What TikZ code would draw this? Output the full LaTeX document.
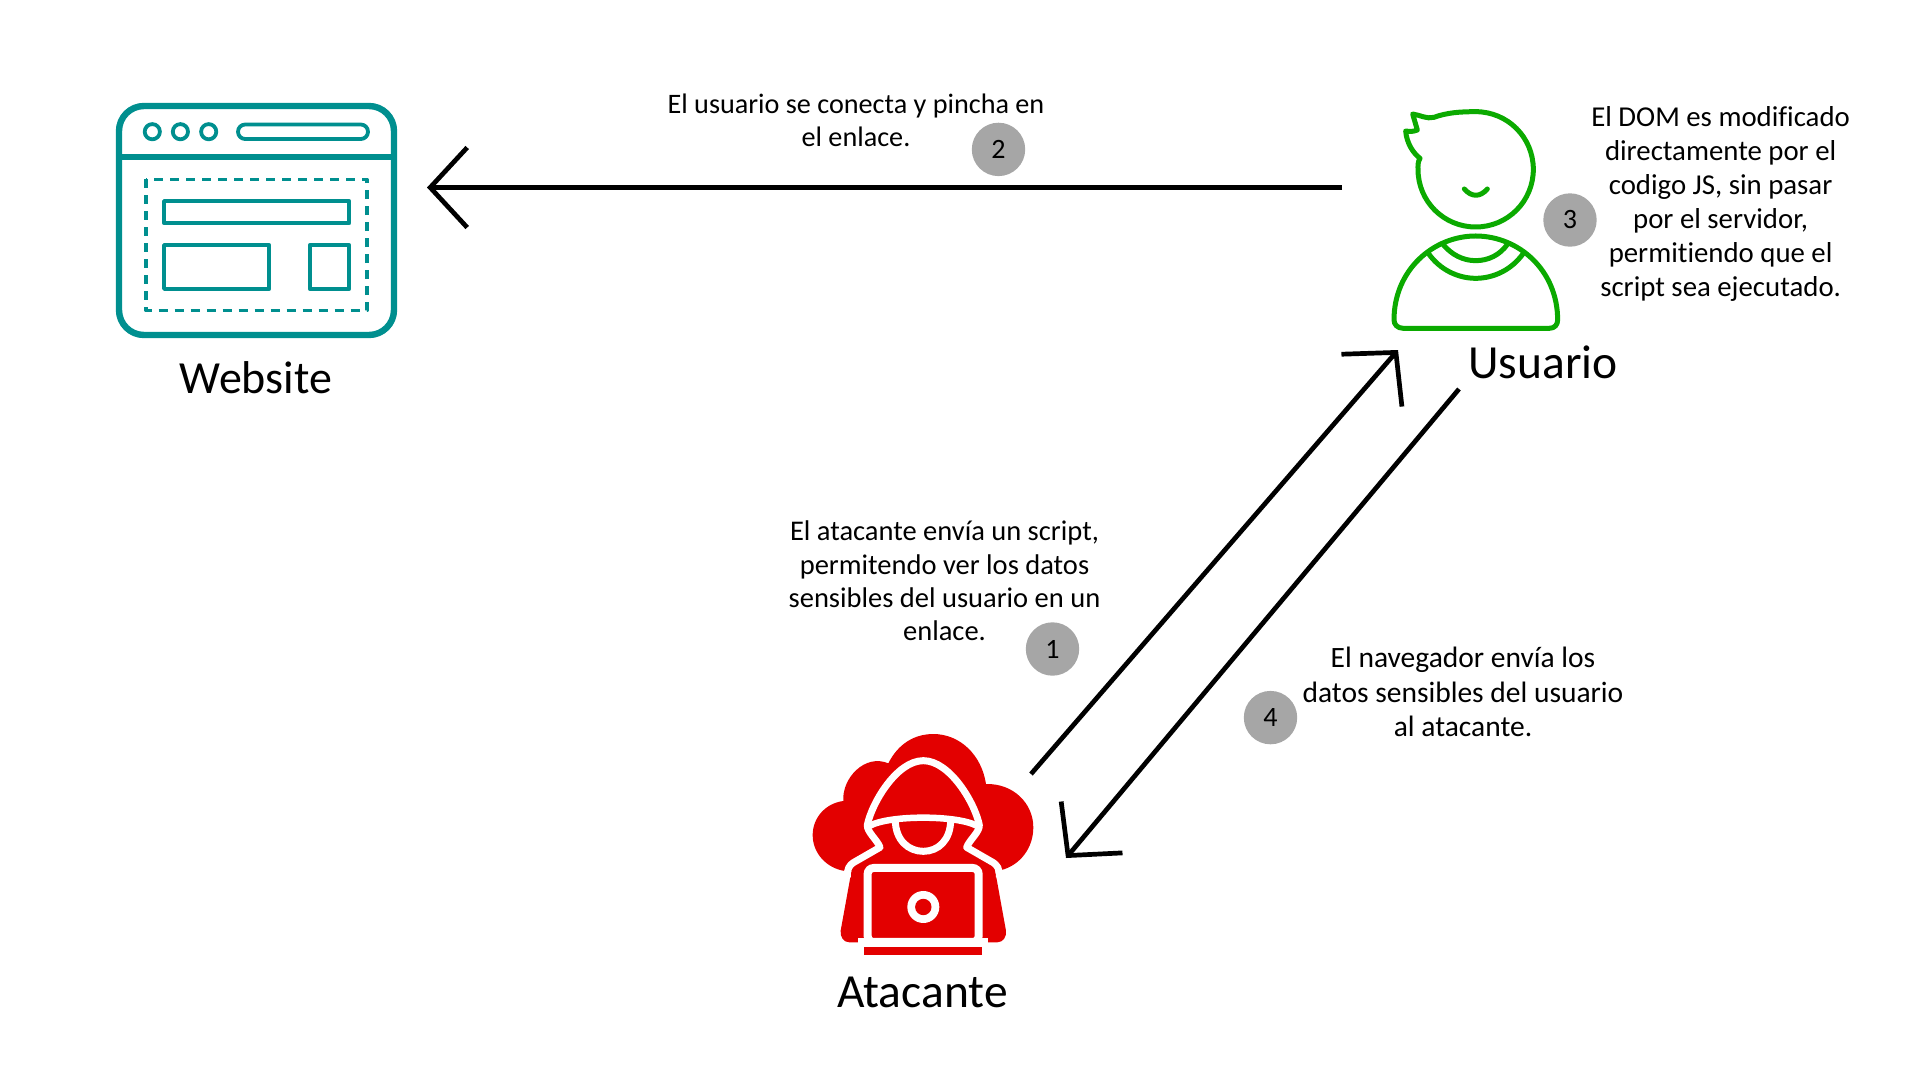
\documentclass[tikz,border=0pt]{standalone}
\usepackage{fontspec}
\setmainfont[Ligatures=NoCommon]{Carlito}
\usetikzlibrary{positioning,arrows.meta}
\definecolor{webteal}{HTML}{008F8F}
\definecolor{usergreen}{HTML}{0BAA00}
\definecolor{hackred}{HTML}{E30000}
\definecolor{stepgray}{HTML}{A6A6A6}
\tikzset{iconbox/.style={inner sep=0pt,outer sep=0pt}}
\tikzset{biglabel/.style={font=\fontsize{47.5}{50}\selectfont,inner sep=0pt}}
\tikzset{note/.style 2 args={font=\fontsize{#1}{#2}\selectfont,align=center,inner sep=0pt}}
\tikzset{badge/.style={circle,fill=stepgray,minimum size=53.4pt,inner sep=0pt,font=\fontsize{28}{30}\selectfont}}
\tikzset{flow/.style={draw,line width=4.7pt,-{Straight Barb[length=37pt,width=80pt]}}}
\tikzset{teal thick/.style={draw=webteal,line width=3.8pt,line join=round}}
\tikzset{green line/.style={draw=usergreen,line width=5pt,line join=round,line cap=round}}
\begin{document}
\begin{tikzpicture}[x=1pt,y=-1pt]
    \useasboundingbox (0,0) rectangle (1920,1080);

    % website
    \node[iconbox,minimum width=281pt,minimum height=235pt] (website) at (256.5,220.5) {};
    \node[biglabel,font=\fontsize{46}{50}\selectfont] (websitelabel) at (256,378) {Website};
    \draw[webteal,line width=6.4pt,rounded corners=25pt] (119,106) rectangle (394,335);
    \draw[webteal,line width=6.4pt] (119,157) -- (394,157);
    \foreach \cx in {152.3,180.4,208.7}
        \draw[teal thick] (\cx,131.7) circle (7.6pt);
    \draw[teal thick,rounded corners=7.2pt] (238,124.5) rectangle (368,139);
    \draw[teal thick,line width=3.2pt,dash pattern=on 9pt off 7pt] (146,179.3) rectangle (367,310.7);
    \draw[teal thick] (164,201) rectangle (349.3,223.3);
    \draw[teal thick] (164,245) rectangle (269.3,289);
    \draw[teal thick] (309.7,245) rectangle (349.3,289);

    % usuario
    \node[iconbox,minimum width=168pt,minimum height=224pt] (usuario) at (1476,220) {};
    \node[biglabel] (usuariolabel) at (1543,362) {Usuario};
    \begin{scope}[shift={(1360,90)},x=0.3333pt,y=-0.3333pt]
        \draw[green line] (180,205) .. controls (173,216) and (174,228) .. (174,238)
            .. controls (174,334) and (251,411) .. (347,411)
            .. controls (443,411) and (520,334) .. (520,238)
            .. controls (520,142) and (443,65) .. (347,65)
            .. controls (300,65) and (260,68) .. (222,82)
            .. controls (200,88) and (180,75) .. (158,72)
            -- (172,120) .. controls (160,125) and (150,125) .. (137,123)
            .. controls (140,160) and (160,190) .. (180,205);
        \draw[green line] (313,297) .. controls (335,322) and (360,322) .. (382,297);
        \draw[green line] (130,715) -- (568,715) .. controls (585,715) and (593,703) .. (593,690)
            .. controls (593,540) and (475,438) .. (347,438)
            .. controls (220,438) and (102,540) .. (102,690)
            .. controls (102,703) and (112,715) .. (130,715) -- cycle;
        \draw[green line] (248,462) .. controls (275,495) and (310,512) .. (347,512)
            .. controls (385,512) and (420,495) .. (443,462);
        \draw[green line] (205,490) .. controls (240,540) and (295,565) .. (347,565)
            .. controls (400,565) and (455,540) .. (490,490);
    \end{scope}

    % atacante
    \node[iconbox,minimum width=221pt,minimum height=222pt] (atacante) at (923,845) {};
    \node[biglabel] (atacantelabel) at (922.5,992) {Atacante};
    \begin{scope}[shift={(790,720)},x=0.3333pt,y=-0.3333pt]
        \fill[hackred] (165,453) .. controls (110,445) and (68,400) .. (68,345)
            .. controls (68,295) and (105,250) .. (160,243)
            .. controls (155,175) and (225,100) .. (295,130)
            .. controls (325,70) and (375,42) .. (430,42)
            .. controls (510,42) and (575,105) .. (588,192)
            .. controls (670,190) and (730,250) .. (730,322)
            .. controls (730,385) and (690,435) .. (635,450) -- cycle;
        \fill[hackred] (400,122) .. controls (320,122) and (245,250) .. (232,315)
            .. controls (230,335) and (262,360) .. (270,382) -- (190,428)
            -- (185,450) -- (152,632) .. controls (150,650) and (160,667) .. (178,667)
            -- (205,667) -- (222,655) -- (578,655) -- (595,667) -- (622,667)
            .. controls (640,667) and (650,650) .. (648,632) -- (615,450) -- (610,428)
            -- (530,382) .. controls (538,360) and (570,335) .. (568,315)
            .. controls (555,250) and (480,122) .. (400,122) -- cycle;
        \draw[white,line width=7pt,line join=round] (172,472) .. controls (170,445) and (180,435) .. (190,428)
            -- (270,382) .. controls (262,360) and (230,335) .. (232,315)
            .. controls (245,250) and (320,122) .. (400,122)
            .. controls (480,122) and (555,250) .. (568,315)
            .. controls (570,335) and (538,360) .. (530,382) -- (610,428)
            .. controls (620,435) and (630,445) .. (628,472);
        \draw[white,line width=6.5pt] (240,317) .. controls (300,285) and (500,285) .. (560,317);
        \draw[white,line width=7pt] (316,300) .. controls (316,360) and (355,394) .. (400,394)
            .. controls (445,394) and (482,360) .. (482,300);
        \draw[white,line width=8pt,fill=hackred,rounded corners=6pt] (233,444) -- (566,444) -- (566,666) -- (233,666) -- cycle;
        \fill[white] (205,655) rectangle (595,680);
        \fill[hackred] (221,680) rectangle (577,704);
        \fill[white] (400,561) circle (16pt);
        \fill[hackred] (400,561) circle (8.2pt);
    \end{scope}

    % notes
    \node[note={28.2}{33}] (notedos) at (856,120.5) {El usuario se conecta y pincha en\\el enlace.};
    \node[note={28.8}{34}] (notetres) at (1720.6,203.5) {El DOM es modificado\\directamente por el\\codigo JS, sin pasar\\por el servidor,\\permitiendo que el\\script sea ejecutado.};
    \node[note={28.5}{33.2}] (noteuno) at (944.5,581) {El atacante envía un script,\\permitendo ver los datos\\sensibles del usuario en un\\enlace.};
    \node[note={29.5}{34.2}] (notecuatro) at (1463,692) {El navegador envía los\\datos sensibles del usuario\\al atacante.};

    \node[badge] (bdos) at (998.5,149.4) {2};
    \node[badge] (btres) at (1570,220) {3};
    \node[badge] (buno) at (1052.5,649) {1};
    \node[badge] (bcuatro) at (1270.5,717.6) {4};

    % connectors
    \coordinate (usuarioout) at (1342,187.5);
    \coordinate (websitein) at (427,187.5);
    \coordinate (atacanteout) at (1031,774);
    \coordinate (usuarioin) at (1398,350);
    \coordinate (usuarioback) at (1459,389);
    \coordinate (atacantein) at (1066,858);
    \path[flow] (usuarioout) -- (websitein);
    \path[flow] (atacanteout) -- (usuarioin);
    \path[flow] (usuarioback) -- (atacantein);
\end{tikzpicture}
\end{document}
